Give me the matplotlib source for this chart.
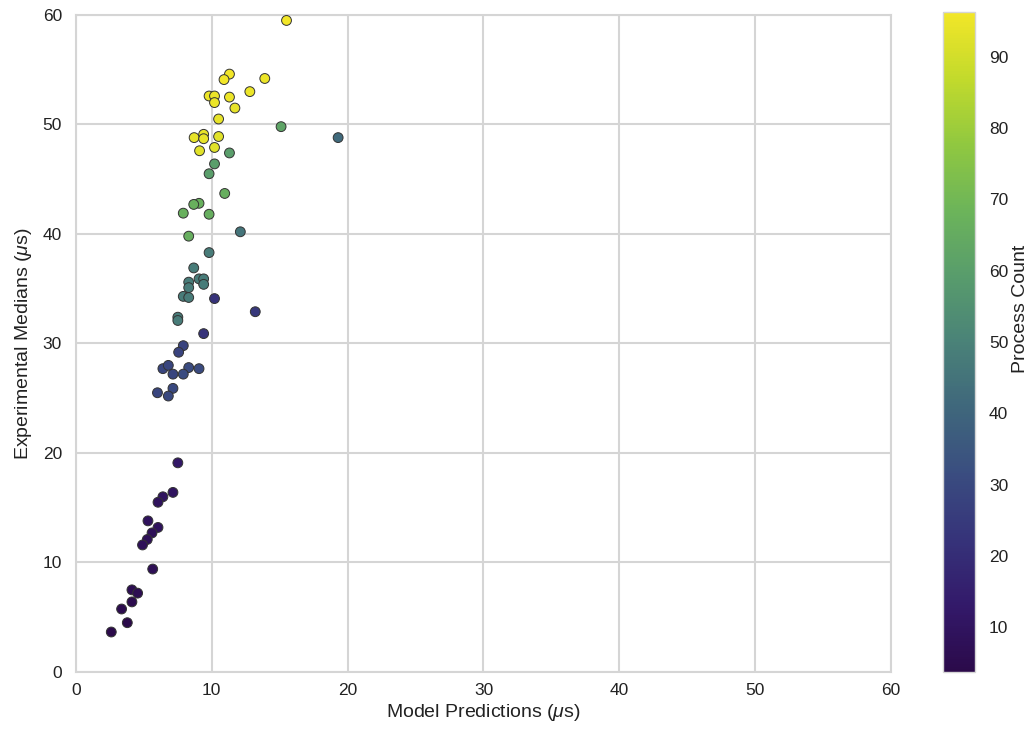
import matplotlib
matplotlib.use("Agg")
import matplotlib.pyplot as plt
from matplotlib.colors import LinearSegmentedColormap

# Model predictions (us), experimental medians (us), process count
model_pred = [
    15.5, 11.3, 10.9, 13.9, 12.8, 9.8, 10.2, 11.3, 10.2, 11.7, 10.5, 9.4, 8.7, 9.4, 10.5, 10.2, 9.1,
    15.1, 19.3, 11.3, 10.2, 9.8, 10.95, 9.06, 8.67, 7.9, 9.8, 8.3, 12.1, 9.8, 8.67, 9.06, 9.4, 9.4,
    8.3, 8.3, 7.9, 8.3, 10.2, 13.2, 7.5, 7.5, 9.4,
    7.9, 7.56, 6.4, 6.8, 8.3, 9.06, 7.14, 7.9, 7.14, 6.0, 6.8,
    7.5, 7.14, 6.4, 6.04, 5.3, 6.04, 5.6, 5.25, 4.9, 5.65, 4.12, 4.54, 4.12, 3.36, 3.78, 2.6,
]
exp_median = [
    59.5, 54.6, 54.1, 54.2, 53.0, 52.6, 52.6, 52.5, 52.0, 51.5, 50.5, 49.1, 48.8, 48.7, 48.9, 47.9, 47.6,
    49.8, 48.8, 47.4, 46.4, 45.5, 43.7, 42.8, 42.7, 41.9, 41.8, 39.8, 40.2, 38.3, 36.9, 35.9, 35.9, 35.4,
    35.6, 35.1, 34.3, 34.2, 34.1, 32.9, 32.4, 32.1, 30.9,
    29.8, 29.2, 27.7, 28.0, 27.8, 27.7, 27.2, 27.2, 25.9, 25.5, 25.2,
    19.1, 16.4, 16.0, 15.5, 13.8, 13.2, 12.7, 12.1, 11.6, 9.4, 7.5, 7.2, 6.4, 5.75, 4.5, 3.65,
]
process_count = [
    96, 96, 96, 95, 95, 95, 95, 95, 95, 94, 94, 94, 94, 94, 93, 93, 93,
    62, 42, 60, 60, 60, 66, 67, 67, 67, 66, 66, 45, 48, 48, 48, 48, 48,
    48, 48, 48, 48, 22, 24, 48, 48, 22,
    28, 28, 29, 29, 31, 31, 29, 31, 30, 29, 30,
    12, 10, 10, 9, 9, 9, 8, 8, 8, 7, 6, 6, 5, 5, 4, 4,
]

plt.rcParams['font.family'] = ['Liberation Sans', 'DejaVu Sans']
plt.rcParams['mathtext.fontset'] = 'custom'
plt.rcParams['mathtext.rm'] = 'Liberation Sans'
plt.rcParams['mathtext.it'] = 'Liberation Sans:italic'

cmap = LinearSegmentedColormap.from_list('early_viridis', [
    (0.00, '#2b0a4a'), (0.10, '#33196a'), (0.20, '#36337a'), (0.30, '#3a4d80'),
    (0.40, '#3f677c'), (0.50, '#4a8278'), (0.60, '#589c6c'), (0.70, '#6cb45a'),
    (0.80, '#90c840'), (0.90, '#c2da2c'), (1.00, '#f2e628')])

fig = plt.figure(figsize=(10.32, 7.34), dpi=100)
ax = fig.add_axes([0.0736, 0.0845, 0.7898, 0.8951])
cax = fig.add_axes([0.9138, 0.0845, 0.031, 0.8992])

sc = ax.scatter(model_pred, exp_median, c=process_count, cmap=cmap,
                vmin=3.7, vmax=96.3, s=50, edgecolors='#333333', linewidths=0.7, zorder=3)

ax.set_xlim(0, 60)
ax.set_ylim(0, 60)
ax.set_xticks(range(0, 61, 10))
ax.set_yticks(range(0, 61, 10))
ax.grid(True, color='#d5d5d5', linewidth=1.5)
ax.set_axisbelow(True)
for s in ax.spines.values():
    s.set_color('#d5d5d5')
    s.set_linewidth(1.5)
ax.tick_params(axis='both', length=0, labelsize=12.5, colors='#222222')
ax.tick_params(axis='x', pad=8)
ax.tick_params(axis='y', pad=10)
ax.set_xlabel(r'Model Predictions ($\mu$s)', fontsize=14, color='#222222', labelpad=3)
ax.set_ylabel(r'Experimental Medians ($\mu$s)', fontsize=14, color='#222222', labelpad=6)

cb = fig.colorbar(sc, cax=cax)
cb.set_ticks(range(10, 91, 10))
cb.outline.set_edgecolor('#d5d5d5')
cb.outline.set_linewidth(1)
cax.tick_params(length=0, labelsize=12.5, colors='#222222', pad=10)
cb.set_label('Process Count', fontsize=14, color='#222222')
cax.yaxis.set_label_coords(2.15, 0.55)

fig.savefig('out.png', dpi=100, facecolor='white')
